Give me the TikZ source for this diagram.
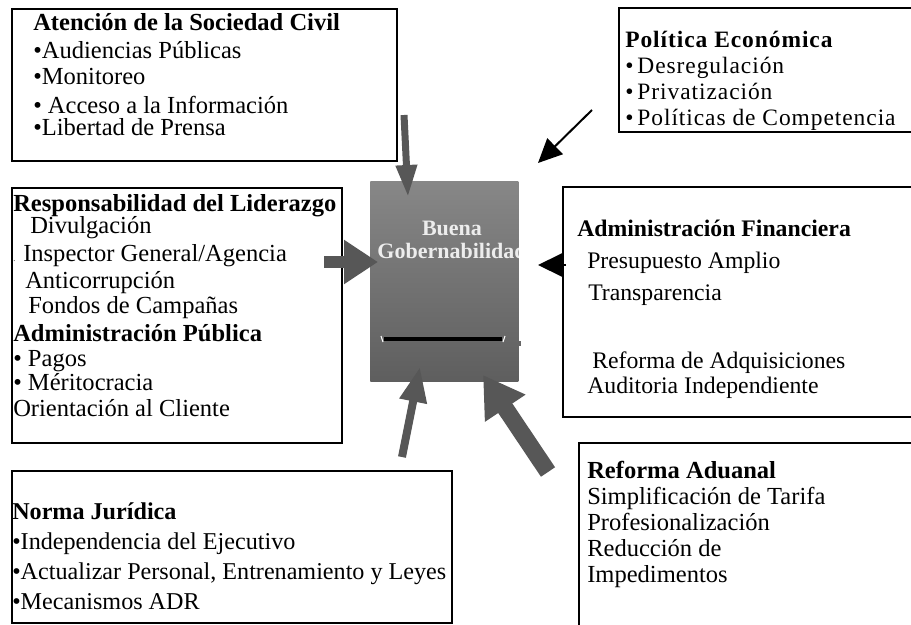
\documentclass[tikz,border=0pt]{standalone}
\usepackage{fontspec}
\setmainfont{Liberation Serif}
\usetikzlibrary{arrows.meta}
\definecolor{arrgray}{gray}{0.34}
\tikzset{
  box/.style={draw=black, line width=1.5pt},
  txt/.style={anchor=north west, inner sep=0pt, align=left, execute at begin node=\rule{0pt}{0.75em}},
  big/.style={font=\fontsize{18}{#1}\selectfont},
  garrow/.style={draw=arrgray, line width=#1}
}
\begin{document}
\begin{tikzpicture}[x=0.75pt, y=-0.75pt]
\useasboundingbox (0,0) rectangle (911,625);
\draw[box] (12,9) rectangle (397,161);
\draw[box] (619,8) rectangle (925,132);
\draw[box] (12,188) rectangle (342,443);
\draw[box] (563,187) rectangle (925,417);
\draw[box] (579,443) rectangle (925,640);
\draw[box] (12,471) rectangle (452,623);
\node[txt, font=\fontsize{18.4}{20.25}\selectfont] (civ) at (33,13) {\textbf{Atención de la Sociedad Civil}\\[0.75pt]
•Audiencias Públicas\\[-0.75pt]
•Monitoreo\\[1.5pt]
• Acceso a la Información\\[-3.75pt]
•Libertad de Prensa};
\node[txt, font=\fontsize{17.6}{19.5}\selectfont\addfontfeatures{LetterSpace=4}] (eco) at (625,31) {\textbf{Política Económica}\\
•\,Desregulación\\
•\,Privatización\\
•\,Políticas de Competencia};
\node[txt, font=\fontsize{18.4}{19.5}\selectfont] (lid) at (13,194) {\textbf{Responsabilidad del Liderazgo}\\[-3pt]
\hspace*{12.75pt}Divulgación\\[1.5pt]
{\fontsize{6}{6}\selectfont.}\hspace*{6pt}Inspector General/Agencia\\[0.75pt]
\hspace*{9pt}Anticorrupción\\[-0.75pt]
\hspace*{11.25pt}Fondos de Campañas\\[1.5pt]
\textbf{Administración Pública}\\[-0.75pt]
• Pagos\\[-1.5pt]
• Méritocracia\\
Orientación al Cliente};
\node[txt, font=\fontsize{17.8}{24}\selectfont] (fin) at (577,220) {\textbf{Administración Financiera}\\
\hspace*{7.5pt}Presupuesto Amplio\\
\hspace*{8.25pt}Transparencia\\[27pt]
\hspace*{11.25pt}Reforma de Adquisiciones\\[-5.25pt]
\hspace*{7.5pt}Auditoria Independiente};
\node[txt, font=\fontsize{18.4}{19.5}\selectfont] (adu) at (587,461) {\textbf{Reforma Aduanal}\\
Simplificación de Tarifa\\
Profesionalización\\
Reducción de\\
Impedimentos};
\node[txt, font=\fontsize{18.1}{22.5}\selectfont] (jur) at (12,502.5) {\textbf{Norma Jurídica}\\
•Independencia del Ejecutivo\\
•Actualizar Personal, Entrenamiento y Leyes\\
•Mecanismos ADR};
\node[top color=black!47, bottom color=black!63, minimum width=111pt, minimum height=150pt,
  inner sep=0pt, anchor=north west] (gob) at (370,181) {};
\begin{scope}
\clip (gob.north west) rectangle (gob.south east);
\node[anchor=north, inner sep=0pt, align=center, text=black!7,
  font=\fontsize{16.5}{17.25}\selectfont\bfseries, execute at begin node=\rule{0pt}{0.75em}]
  (gobtxt) at (452,221) {Buena\\Gobernabilidad};
\end{scope}
\draw[line width=3pt] (384,339) -- (502,339);
\draw[white, line width=0.8pt] (381,336) -- (383,342);
\draw[white, line width=0.8pt] (505,336) -- (503,342);
\fill[black!60] (518,341) rectangle (521,346);
\coordinate (civ-t) at (404,115);
\coordinate (civ-h) at (408,197);
\coordinate (lid-t) at (324,262);
\coordinate (lid-h) at (378,262);
\coordinate (eco-t) at (592,110);
\coordinate (eco-h) at (538,163);
\coordinate (fin-t) at (566,265);
\coordinate (fin-h) at (538,265);
\coordinate (jur-t) at (402,457);
\coordinate (jur-h) at (420,367);
\coordinate (adu-t) at (548,472);
\coordinate (adu-h) at (483,375);
\draw[garrow=5.25pt, -{Triangle[length=24pt,width=15pt]}] (civ-t) -- (civ-h);
\draw[garrow=9pt, -{Triangle[length=25.5pt,width=31.5pt]}] (lid-t) -- (lid-h);
\draw[garrow=6pt, -{Triangle[length=26.25pt,width=19.5pt]}] (jur-t) -- (jur-h);
\draw[garrow=12.75pt, -{Triangle[length=30pt,width=34.5pt]}] (adu-t) -- (adu-h);
\draw[line width=1.5pt, -{Triangle[length=18pt,width=16.5pt]}] (eco-t) -- (eco-h);
\draw[line width=1.5pt, -{Triangle[length=18.75pt,width=18pt]}] (fin-t) -- (fin-h);
\end{tikzpicture}
\end{document}
